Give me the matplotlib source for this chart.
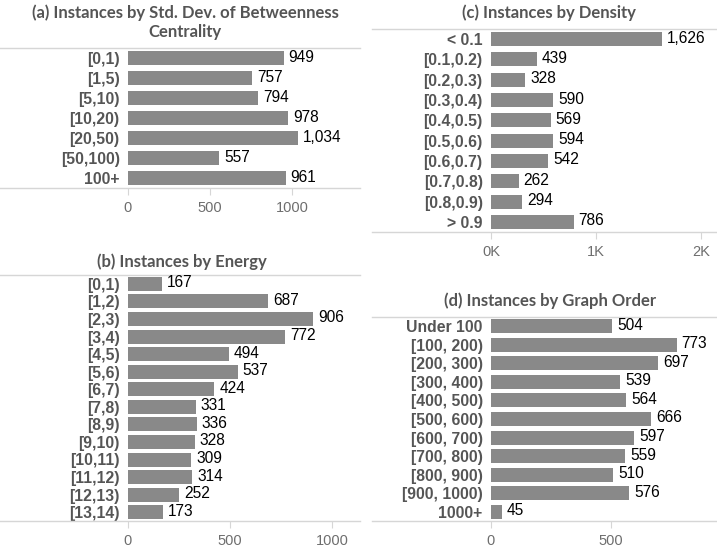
import matplotlib.pyplot as plt

# Categorias y conteos de cada panel
cats_a = ['[0,1)', '[1,5)', '[5,10)', '[10,20)', '[20,50)', '[50,100)', '100+']
vals_a = [949, 757, 794, 978, 1034, 557, 961]

cats_b = ['[0,1)', '[1,2)', '[2,3)', '[3,4)', '[4,5)', '[5,6)', '[6,7)',
          '[7,8)', '[8,9)', '[9,10)', '[10,11)', '[11,12)', '[12,13)', '[13,14)']
vals_b = [167, 687, 906, 772, 494, 537, 424, 331, 336, 328, 309, 314, 252, 173]

cats_c = ['< 0.1', '[0.1,0.2)', '[0.2,0.3)', '[0.3,0.4)', '[0.4,0.5)',
          '[0.5,0.6)', '[0.6,0.7)', '[0.7,0.8)', '[0.8,0.9)', '> 0.9']
vals_c = [1626, 439, 328, 590, 569, 594, 542, 262, 294, 786]

cats_d = ['Under 100', '[100, 200)', '[200, 300)', '[300, 400)', '[400, 500)',
          '[500, 600)', '[600, 700)', '[700, 800)', '[800, 900)', '[900, 1000)', '1000+']
vals_d = [504, 773, 697, 539, 564, 666, 597, 559, 510, 576, 45]

ticks_ab = [0, 500, 1000]
ticks_c = [0, 1000, 2000]
ticklabels_c = ['0K', '1K', '2K']
ticks_d = [0, 500]

W, H = 717, 552
BAR = '#898989'
LINEA = '#d6d6d6'
GRIS = '#555555'

fig = plt.figure(figsize=(W / 100, H / 100), dpi=100)


def panel(x0, x1, top, bottom, xmax, cats, vals, ticks, ticklabels, line_left):
    # caja en pixeles -> coordenadas de figura
    ax = fig.add_axes([x0 / W, 1 - bottom / H, (x1 - x0) / W, (bottom - top) / H])
    n = len(cats)
    alto = 14 / ((bottom - top) / n)  # barras de ~14 px
    pos = list(range(n))
    ax.barh(pos, vals, height=alto, color=BAR)
    for p, v in zip(pos, vals):
        ax.annotate(f'{v:,}', (v, p), xytext=(5, 1), textcoords='offset pixels',
                    va='center', ha='left', fontsize=11.2, family='Liberation Sans',
                    color='black')
    ax.set_ylim(n - 0.5, -0.5)
    ax.set_xlim(0, xmax)
    ax.set_yticks(pos)
    ax.set_yticklabels(cats, fontsize=11.3, fontweight='bold', family='Liberation Sans', color=GRIS)
    ax.tick_params(axis='y', length=0, pad=6)
    ax.set_xticks(ticks)
    ax.set_xticklabels(ticklabels, fontsize=10.5, family='Liberation Sans', color='#6e6e6e')
    ax.tick_params(axis='x', length=5, width=0.8, color=LINEA, pad=4.5)
    for s in ax.spines.values():
        s.set_visible(False)
    # lineas horizontales de arriba y abajo, se extienden sobre las etiquetas
    izq = (line_left - x0) / (x1 - x0)
    ax.plot([izq, 1], [1, 1], color=LINEA, lw=1, transform=ax.transAxes, clip_on=False)
    ax.plot([izq, 1], [0, 0], color=LINEA, lw=1, transform=ax.transAxes, clip_on=False)
    return ax


panel(128, 360, 48, 188, 232 / 0.164, cats_a, vals_a, ticks_ab, ['0', '500', '1000'], 0)
panel(128, 360, 275, 521, 232 / 0.204, cats_b, vals_b, ticks_ab, ['0', '500', '1000'], 0)
panel(491, 717, 29, 232, 226 / 0.105, cats_c, vals_c, ticks_c, ticklabels_c, 372)
panel(491, 717, 317, 521, 226 / 0.240, cats_d, vals_d, ticks_d, ['0', '500'], 372)

# titulos
tit = dict(ha='center', va='center', fontsize=12, fontweight='bold', family='Lato', color=GRIS)
fig.text(185 / W, 1 - 22 / H, '(a) Instances by Std. Dev. of Betweenness\nCentrality',
         linespacing=1.25, **tit)
fig.text(182 / W, 1 - 262 / H, '(b) Instances by Energy', **tit)
fig.text(549 / W, 1 - 13 / H, '(c) Instances by Density', **tit)
fig.text(550 / W, 1 - 301 / H, '(d) Instances by Graph Order', **tit)

fig.savefig('out.png', dpi=100)
